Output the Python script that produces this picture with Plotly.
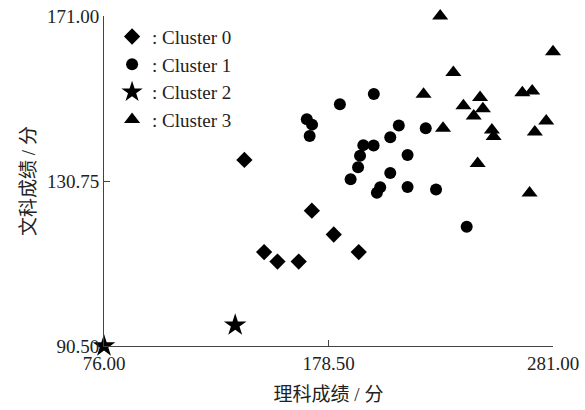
import plotly.graph_objects as go

c0_x = [140.1, 149.1, 155.2, 164.9, 170.9, 180.9, 192.3]
c0_y = [135.9, 113.4, 111.1, 111.1, 123.5, 117.7, 113.4]

c1_x = [199.2, 183.7, 168.6, 171.0, 169.9, 210.6, 222.9, 206.7, 194.4, 199.1,
        192.9, 214.6, 192.0, 188.6, 206.7, 202.1, 200.6, 214.6, 227.6, 241.6]
c1_y = [152.0, 149.5, 145.8, 144.5, 141.7, 144.3, 143.6, 141.4, 139.5, 139.4,
        136.9, 137.1, 134.1, 131.2, 132.7, 129.2, 127.9, 129.3, 128.7, 119.6]

c2_x = [76.0, 135.9]
c2_y = [90.5, 95.6]

c3_x = [229.5, 281.0, 235.5, 221.9, 247.7, 267.0, 271.5, 240.1, 249.0, 244.8,
        277.9, 230.8, 253.1, 253.9, 272.7, 246.6, 270.3]
c3_y = [171.0, 162.3, 157.2, 151.9, 151.1, 152.3, 152.7, 149.1, 148.4, 146.6,
        145.4, 143.6, 143.2, 141.6, 142.7, 135.0, 127.8]

names = [": Cluster 0", ": Cluster 1", ": Cluster 2", ": Cluster 3"]
x_ticks = [76.0, 178.5, 281.0]
y_ticks = [90.5, 130.75, 171.0]
x_title = "理科成绩 / 分"
y_title = "文科成绩 / 分"

FONT = "Liberation Serif, Times New Roman, Noto Sans CJK SC, serif"

fig = go.Figure()
series = [
    (c0_x, c0_y, "diamond", 12.5),
    (c1_x, c1_y, "circle", 12),
    (c2_x, c2_y, "star", 17),
    (c3_x, c3_y, "triangle-up", 14),
]
for (xs, ys, sym, sz), nm in zip(series, names):
    fig.add_trace(go.Scatter(
        x=xs, y=ys, mode="markers", name=nm, cliponaxis=False,
        marker=dict(symbol=sym, size=sz, color="black", line=dict(width=0)),
    ))

axis_common = dict(
    showline=True, linecolor="#444", linewidth=1, showgrid=False, zeroline=False,
    ticks="inside", ticklen=6, tickcolor="#444", mirror=False, automargin=False,
    ticklabeloverflow="allow",
    tickfont=dict(family=FONT, size=19, color="#222"),
    tickformat=".2f",
)
fig.update_xaxes(range=[76, 281], tickvals=x_ticks, **axis_common,
                 title=dict(text=x_title, font=dict(family=FONT, size=19, color="#222"), standoff=14))
fig.update_yaxes(range=[90.5, 171], tickvals=y_ticks, **axis_common,
                 title=dict(text=y_title, font=dict(family=FONT, size=19, color="#222"), standoff=6))

fig.update_layout(
    width=585, height=410,
    margin=dict(l=103.5, r=31.5, t=16, b=64),
    paper_bgcolor="white", plot_bgcolor="white",
    font=dict(family=FONT, size=19, color="#222"),
    legend=dict(x=0.018, y=0.995, xanchor="left", yanchor="top",
                bgcolor="rgba(0,0,0,0)", font=dict(family=FONT, size=19, color="#222"),
                itemwidth=30, tracegroupgap=0),
    showlegend=True,
)

# remove the page's default 8px body margin so the figure sits at the window's corner
fig.write_html("out.html", config={"displayModeBar": False},
               post_script="document.body.style.margin='0';")
